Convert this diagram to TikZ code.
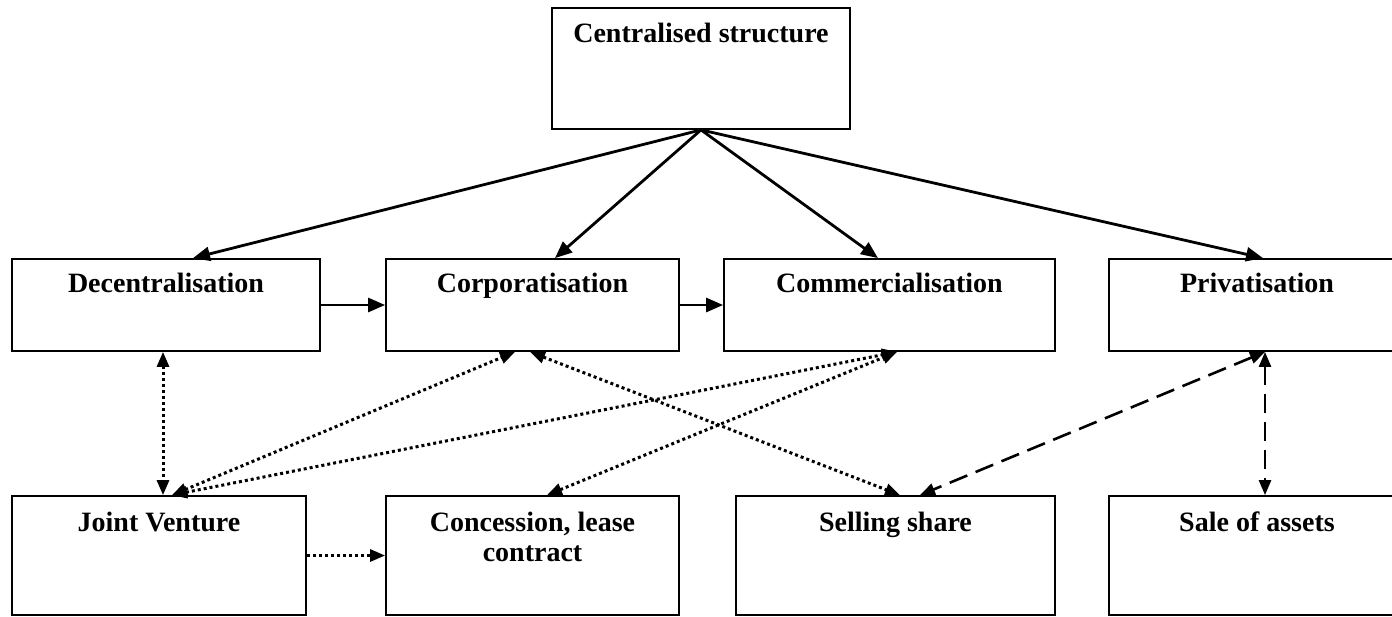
\documentclass[tikz,border=0pt]{standalone}
\usepackage{fontspec}
\setmainfont{Liberation Serif}
\usetikzlibrary{arrows.meta}
\begin{document}
\begin{tikzpicture}[x=1pt,y=-1pt,
  box/.style={draw,line width=1.8pt,rectangle,inner sep=0pt,minimum height=#1},
  box/.default=92pt,
  lbl/.style={font=\fontsize{28}{30}\selectfont\bfseries,inner sep=0pt,anchor=base},
  solidarr/.style={line width=2.8pt,-{Triangle[length=17pt,width=14pt]}},
  dotarr/.style={line width=3pt,dash pattern=on 3pt off 3pt,{Triangle[length=15pt,width=12pt]}-{Triangle[length=15pt,width=12pt]}},
  dotone/.style={line width=3pt,dash pattern=on 3pt off 3pt,-{Triangle[length=15pt,width=12pt]}},
  dasharr/.style={line width=2.6pt,dash pattern=on 19pt off 9pt,{Triangle[length=15pt,width=12pt]}-{Triangle[length=15pt,width=12pt]}}]
\clip (0,0) rectangle (1392,616);
% top box
\node[box=121pt,minimum width=298pt] (cent) at (701,68.5) {};
\node[lbl] (centt) at ([yshift=-35pt]cent.north) {Centralised structure};
% middle row
\node[box,minimum width=308pt] (dec) at (166,305) {};
\node[lbl] (dect) at ([yshift=-34pt]dec.north) {Decentralisation};
\node[box,minimum width=293pt] (corp) at (532.5,305) {};
\node[lbl] (corpt) at ([yshift=-34pt]corp.north) {Corporatisation};
\node[box,minimum width=331pt] (comm) at (889.5,305) {};
\node[lbl] (commt) at ([yshift=-34pt]comm.north) {Commercialisation};
\node[box,minimum width=296pt] (priv) at (1257,305) {};
\node[lbl] (privt) at ([yshift=-34pt]priv.north) {Privatisation};
% bottom row
\node[box=119pt,minimum width=294pt] (jv) at (159,555.5) {};
\node[lbl] (jvt) at ([yshift=-36pt]jv.north) {Joint Venture};
\node[box=119pt,minimum width=293pt] (conc) at (532.5,555.5) {};
\node[lbl] (conct) at ([yshift=-36pt]conc.north) {\begin{tabular}[t]{@{}c@{}}Concession, lease\\contract\end{tabular}};
\node[box=119pt,minimum width=319pt] (sell) at (895.5,555.5) {};
\node[lbl] (sellt) at ([yshift=-36pt]sell.north) {Selling share};
\node[box=119pt,minimum width=296pt] (sale) at (1257,555.5) {};
\node[lbl] (salet) at ([yshift=-36pt]sale.north) {Sale of assets};
% solid arrows
\draw[solidarr] (cent.south) -- ([xshift=27pt]dec.north);
\draw[solidarr] (cent.south) -- ([xshift=22.5pt]corp.north);
\draw[solidarr] (cent.south) -- ([xshift=-11.5pt]comm.north);
\draw[solidarr] (cent.south) -- ([xshift=6pt]priv.north);
\draw[solidarr] (dec.east) -- (corp.west);
\draw[solidarr] (corp.east) -- (comm.west);
% dotted
\draw[dotarr] ([xshift=-3pt]dec.south) -- ([xshift=-3pt]dec.south |- jv.north);
\draw[dotarr] ([xshift=13pt]jv.north) -- ([xshift=-17.5pt]corp.south);
\draw[dotarr] ([xshift=13pt]jv.north) -- ([xshift=7.5pt]comm.south);
\draw[dotarr] ([xshift=14.5pt]conc.north) -- ([xshift=7.5pt]comm.south);
\draw[dotarr] ([xshift=-2.5pt]corp.south) -- ([xshift=4.5pt]sell.north);
\draw[dotone] (jv.east) -- (conc.west);
% dashed
\draw[dasharr] ([xshift=8pt]priv.south) -- ([xshift=24.5pt]sell.north);
\draw[dasharr] ([xshift=8pt]priv.south) -- ([xshift=8pt]sale.north);
\end{tikzpicture}
\end{document}
